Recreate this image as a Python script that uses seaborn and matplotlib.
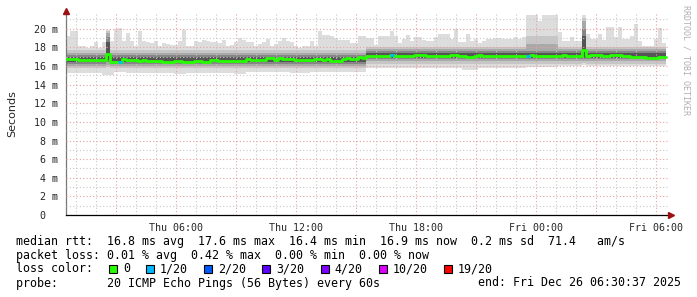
import numpy as np
import pandas as pd
import seaborn as sns
import matplotlib
matplotlib.use("Agg")
import matplotlib.pyplot as plt
from matplotlib.patches import Rectangle

# ---------------- data (12-minute blocks, starting Thu 00:30) ----------------
block_hours = 0.2

median_ms = ([16.74]*3 + [16.6]*5 + [16.67]*2 + [17.31] + [16.45]*2 + [16.42] + [16.78]
             + [16.6]*3 + [16.49] + [16.6] + [16.56]*4 + [16.45]*3 + [16.56]*2 + [16.45]*3
             + [16.56]*2 + [16.45]*2 + [16.67]*2 + [16.56]*7 + [16.74] + [16.67]*4 + [16.81]*2
             + [16.67] + [16.81] + [16.77]*3 + [16.67]*5 + [16.77]*2 + [16.67] + [16.77]
             + [16.56]*3 + [16.74] + [16.88] + [16.77]*2 + [16.92] + [16.85]
             + [17.03]*2 + [17.1]*4 + [17.17] + [17.1] + [17.07]*4 + [17.13]*3 + [17.03]*6
             + [17.17]*2 + [17.1]*2 + [16.96]*2 + [17.07] + [17.2] + [17.03]*2 + [17.1]*9
             + [17.1] + [17.2] + [17.03]*2 + [17.1]*5 + [17.2] + [17.07]*4 + [17.67] + [17.1]
             + [17.2]*3 + [17.1]*2 + [17.2]*3 + [17.1]*2 + [17.0]*4 + [16.9]*3 + [17.0]*2)

max_ms = [19.25, 19.71, 19.71, 18.10, 18.10, 17.92, 18.2, 18.53, 17.92, 18.53,
          19.89, 18.64, 19.96, 20.07, 18.64, 19.53, 18.64, 18.10, 19.78, 18.64,
          18.53, 18.46, 18.64, 18.10, 18.46, 18.39, 18.28, 18.28, 18.64, 19.89,
          18.17, 18.10, 18.64, 18.53, 18.82, 18.64, 18.53, 18.53, 18.46, 18.82,
          18.10, 18.28, 18.53, 19.0, 18.82, 18.53, 18.53, 18.17, 18.39, 18.53,
          18.89, 18.10, 18.39, 18.64, 19.0, 18.64, 18.53, 18.10, 17.92, 18.10,
          18.10, 18.64, 18.10, 19.71, 19.35, 19.35, 19.18, 19.0, 18.82, 18.82,
          18.82, 18.46, 18.46, 19.25, 19.25, 19.0, 19.0, 18.28, 19.25, 19.25,
          19.25, 19.8, 19.18, 18.46, 18.89, 19.35, 18.64, 19.1, 19.1, 18.82,
          18.64, 18.64, 19.1, 19.42, 19.42, 19.42, 18.89, 19.96, 18.53, 18.53,
          19.46, 18.64, 18.89, 18.46, 18.64, 18.89, 18.89, 19.0, 19.0, 18.89,
          18.89, 18.89, 19.1, 18.89, 19.1, 21.5, 21.5, 21.5, 20.78, 21.5,
          21.5, 21.5, 21.5, 19.6, 18.64, 18.64, 19.1, 18.64, 18.64, 21.5,
          19.46, 18.89, 18.89, 19.46, 18.75, 20.18, 20.18, 19.1, 20.18, 18.89,
          18.89, 19.25, 20.54, 18.64, 18.10, 18.10, 18.10, 18.89, 20.07, 18.46]

min_ms = ([15.3]*9 + [15.05]*3 + [15.4]*3 + [15.2]*4 + [15.3]*8 + [15.15]*3 + [15.3]*12
          + [15.15]*3 + [15.35]*11 + [15.2]*5 + [15.35]*14
          + [15.75]*24 + [15.6]*4 + [15.75]*12 + [15.85]*8 + [15.95]*6 + [16.1] + [15.95]*20)

p10_ms = [15.75]*10 + [15.9] + [15.75]*64 + [16.25]*54 + [16.3] + [16.25]*20
p20_ms = [16.05]*10 + [16.1] + [16.05]*64 + [16.55]*54 + [16.5] + [16.55]*20
p30_ms = [16.25]*10 + [16.4] + [16.25]*64 + [16.75]*54 + [16.7] + [16.75]*20
p40_ms = [16.38]*10 + [16.6] + [16.38]*64 + [16.86]*54 + [16.9] + [16.86]*20
p60_ms = [16.97]*10 + [18.6] + [16.97]*64 + [17.35]*54 + [19.2] + [17.35]*20
p70_ms = [17.2]*10 + [19.1] + [17.2]*64 + [17.6]*54 + [20.0] + [17.6]*20
p80_ms = ([17.45]*10 + [19.5] + [17.45]*64 + [17.85]*40 + [18.4]*8 + [17.85]*6
          + [20.8] + [17.85]*20)
p90_ms = ([17.75]*10 + [19.8] + [17.75]*64 + [18.05]*40 + [19.2]*8 + [18.05]*6
          + [21.2] + [18.05]*20)

loss_block = [13, 81, 115]
loss_count = [1, 1, 1]

loss_labels = ["0", "1/20", "2/20", "3/20", "4/20", "10/20", "19/20"]
loss_colors = ["#26ff00", "#00b8ff", "#0059ff", "#5e00ff", "#7e00ff", "#dd00ff", "#ff0000"]
loss_steps = [0, 1, 2, 3, 4, 10, 19]

xtick_hours = [5.5, 11.5, 17.5, 23.5, 29.5]
xtick_labels = ["Thu 06:00", "Thu 12:00", "Thu 18:00", "Fri 00:00", "Fri 06:00"]
ytick_values = [0, 2, 4, 6, 8, 10, 12, 14, 16, 18, 20]
ytick_labels = ["0  ", "2 m", "4 m", "6 m", "8 m", "10 m", "12 m", "14 m", "16 m", "18 m", "20 m"]

line_rtt = "median rtt:  16.8 ms avg  17.6 ms max  16.4 ms min  16.9 ms now  0.2 ms sd  71.4   am/s"
line_loss = "packet loss: 0.01 % avg  0.42 % max  0.00 % min  0.00 % now"
line_probe = "probe:       20 ICMP Echo Pings (56 Bytes) every 60s"
line_end = "end: Fri Dec 26 06:30:37 2025"

# ---------------- figure ----------------
sns.set_style("white")
plt.rcParams["font.family"] = ["DejaVu Sans"]
W, H = 697, 297
fig = plt.figure(figsize=(W / 100, H / 100), dpi=100)
ax = fig.add_axes([66 / W, 1 - 215 / H, (669 - 66) / W, (215 - 12) / H])

n = len(median_ms)
edges = np.arange(n + 1) * block_hours


def ext(a):
    a = np.asarray(a, dtype=float)
    return np.append(a, a[-1])


layers = [
    (min_ms, max_ms, "#dddddd"),
    (p10_ms, p90_ms, "#c6c6c6"),
    (p20_ms, p80_ms, "#a9a9a9"),
    (p30_ms, p70_ms, "#868686"),
    (p40_ms, p60_ms, "#555555"),
]
for i, (lo, hi, c) in enumerate(layers):
    ax.fill_between(edges, ext(lo), ext(hi), step="post", color=c, lw=0, zorder=1 + i * 0.1)

med_df = pd.DataFrame({"t": edges, "rtt": ext(median_ms)})
sns.lineplot(data=med_df, x="t", y="rtt", drawstyle="steps-post", color=loss_colors[0],
             lw=2.0, ax=ax, zorder=3, estimator=None)
for k, cnt in zip(loss_block, loss_count):
    col = loss_colors[loss_steps.index(cnt)]
    ax.hlines(median_ms[k], edges[k], edges[k + 1], color=col, lw=2.0, zorder=4)

ax.set_xlim(0, 30.15)
ax.set_ylim(0, 21.8)

# grid
ax.set_xticks(np.arange(2.5, 30, 3))
ax.set_xticks(np.arange(0.5, 30.1, 1), minor=True)
ax.set_xticklabels([xtick_labels[xtick_hours.index(h)] if h in xtick_hours else ""
                    for h in np.arange(2.5, 30, 3)])
ax.set_yticks(ytick_values)
ax.set_yticks(np.arange(1, 22, 1), minor=True)
ax.set_yticklabels(ytick_labels)
ax.set_axisbelow(False)
ax.grid(which="major", color="#e8a0a0", ls=(0, (1, 2)), lw=0.8, zorder=2.5)
ax.grid(which="minor", color="#c8c8c8", ls=(0, (1, 2)), lw=0.8, zorder=2.4)

ax.tick_params(axis="x", which="major", length=2.5, width=0.8, color="black", pad=3,
               labelsize=7.2, direction="out")
ax.tick_params(axis="x", which="minor", length=0)
ax.tick_params(axis="y", which="both", length=0, pad=6, labelsize=7.2)
for lab in ax.get_xticklabels() + ax.get_yticklabels():
    lab.set_fontfamily("DejaVu Sans Mono")

ax.set_xlabel("")
ax.set_ylabel("Seconds", fontsize=8)
ax.yaxis.set_label_coords(-(66 - 17) / (669 - 66), 0.5)

for s in ["top", "right"]:
    ax.spines[s].set_visible(False)
ax.spines["left"].set_color("#777777")
ax.spines["left"].set_linewidth(0.9)
ax.spines["bottom"].set_color("black")
ax.spines["bottom"].set_linewidth(0.9)
ax.plot([0], [21.9], marker="^", color="#9b1010", ms=4, clip_on=False, zorder=6)
ax.plot([30.25], [0], marker=">", color="#9b1010", ms=4, clip_on=False, zorder=6)

# side text
fig.text(686 / W, 1 - 5 / H, "RRDTOOL / TOBI OETIKER", rotation=270, va="top", ha="center",
         fontsize=6, color="#b0b0b0", family="DejaVu Sans Mono")

# legend
mono = dict(family="DejaVu Sans Mono", fontsize=8.4, color="black", va="center")
fig.text(16 / W, 1 - 241 / H, line_rtt, ha="left", **mono)
fig.text(16 / W, 1 - 255 / H, line_loss, ha="left", **mono)
fig.text(16 / W, 1 - 269 / H, "loss color:", ha="left", **mono)
fig.text(16 / W, 1 - 283 / H, line_probe, ha="left", **mono)
fig.text(681 / W, 1 - 283 / H, line_end, ha="right", **mono)

xb = 109
for lab, col in zip(loss_labels, loss_colors):
    fig.patches.append(Rectangle((xb / W, 1 - 273 / H), 8 / W, 8 / H, facecolor=col,
                                 edgecolor="black", lw=0.8, transform=fig.transFigure))
    fig.text((xb + 14) / W, 1 - 269 / H, lab, ha="left", **mono)
    xb = xb + 14 + 7.05 * len(lab) + 16

fig.savefig("out.png", dpi=100, facecolor="white")
